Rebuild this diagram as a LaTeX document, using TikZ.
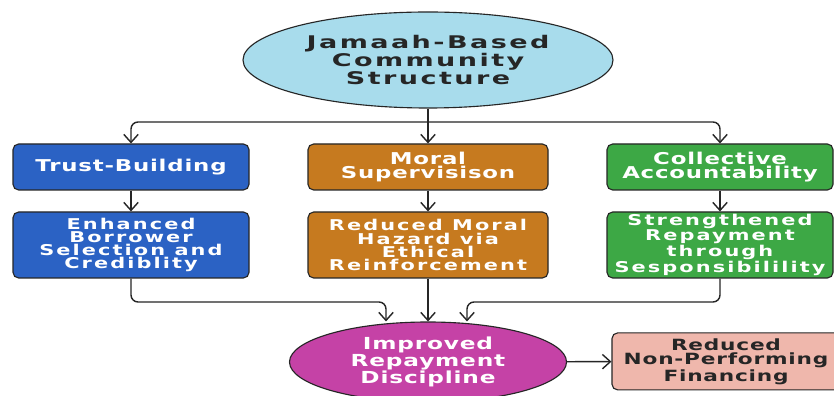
\documentclass[tikz,border=0pt]{standalone}
\usepackage{fontspec}
\usepackage{tikz}
\usetikzlibrary{arrows.meta,shapes.geometric}

\newfontfamily\boxfont[FakeStretch=1.4,LetterSpace=5]{DejaVu Sans}
\newfontfamily\rowfont[FakeStretch=1.4,LetterSpace=14]{DejaVu Sans}
\newfontfamily\widefont[FakeStretch=1.55,LetterSpace=14]{DejaVu Sans}

\definecolor{skyfill}{HTML}{A8DCEC}
\definecolor{trustblue}{HTML}{2B62C4}
\definecolor{moralorange}{HTML}{C67A1F}
\definecolor{collgreen}{HTML}{3DA845}
\definecolor{discmagenta}{HTML}{C542A6}
\definecolor{npfpink}{HTML}{EFB7AC}
\definecolor{inkdark}{HTML}{262626}

\tikzset{
  boxnode/.style={draw=inkdark,line width=0.8pt,rounded corners=4pt,align=center,
    inner sep=0pt,text=white,font=\boxfont\bfseries\fontsize{11.6}{10.4}\selectfont},
  lowbox/.style={boxnode,minimum height=1.65cm,
    font=\rowfont\bfseries\fontsize{10.6}{9.3}\selectfont},
  blobnode/.style={draw=inkdark,line width=0.8pt,ellipse,align=center,inner sep=0pt},
  flow/.style={draw=inkdark,line width=1pt,rounded corners=5pt,
    -{Straight Barb[length=2mm,width=3.6mm]}}
}

\begin{document}
\begin{tikzpicture}
  \useasboundingbox[fill=white] (0,0) rectangle (20.85,9.875);

  \node[blobnode,fill=skyfill,text=inkdark,minimum width=9.25cm,minimum height=2.4cm,
    font=\widefont\bfseries\fontsize{12.4}{11}\selectfont] (root) at (10.7,8.375)
    {Jamaah-Based\\Community\\Structure};

  \node[boxnode,fill=trustblue,minimum width=5.9cm,minimum height=1.15cm] (trust) at (3.275,5.7) {Trust-Building};
  \node[boxnode,fill=moralorange,minimum width=6cm,minimum height=1.15cm] (moral) at (10.7,5.7) {Moral\\Supervisison};
  \node[boxnode,fill=collgreen,minimum width=5.65cm,minimum height=1.15cm] (collective) at (18,5.7) {Collective\\Accountability};

  \node[lowbox,fill=trustblue,minimum width=5.9cm] (borrower) at (3.275,3.75)
    {Enhanced\\Borrower\\Selection and\\Crediblity};
  \node[lowbox,fill=moralorange,minimum width=6cm] (hazard) at (10.7,3.75)
    {Reduced Moral\\Hazard via\\Ethical\\Reinforcement};
  \node[lowbox,fill=collgreen,minimum width=5.65cm] (repay) at (18,3.75)
    {Strengthened\\Repayment\\through\\Sesponsibilility};

  \node[blobnode,fill=discmagenta,text=white,minimum width=6.925cm,minimum height=2cm,
    font=\boxfont\bfseries\fontsize{11.8}{10}\selectfont] (discipline) at (10.7,0.825)
    {Improved\\Repayment\\Discipline};
  \node[boxnode,fill=npfpink,text=inkdark,minimum width=5.7cm,minimum height=1.425cm,
    font=\boxfont\bfseries\fontsize{11}{10.3}\selectfont] (npf) at (18.15,0.84)
    {Reduced\\Non-Performing\\Financing};

  % branching from the root
  \coordinate (split) at (10.7,6.825);
  \draw[flow] (root.south) -- (moral.north);
  \draw[flow] (split) -| (trust.north);
  \draw[flow] (split) -| (collective.north);

  \draw[flow] (trust) -- (borrower);
  \draw[flow] (moral) -- (hazard);
  \draw[flow] (collective) -- (repay);

  % merging into discipline
  \coordinate (joinL) at (9.65,2.325);
  \coordinate (joinR) at (11.675,2.325);
  \draw[flow] (borrower.south) |- (joinL) -- (joinL |- discipline.north);
  \draw[flow] (hazard.south) -- (discipline.north);
  \draw[flow] (repay.south) |- (joinR) -- (joinR |- discipline.north);

  \draw[flow] (discipline) -- (npf);
\end{tikzpicture}
\end{document}
